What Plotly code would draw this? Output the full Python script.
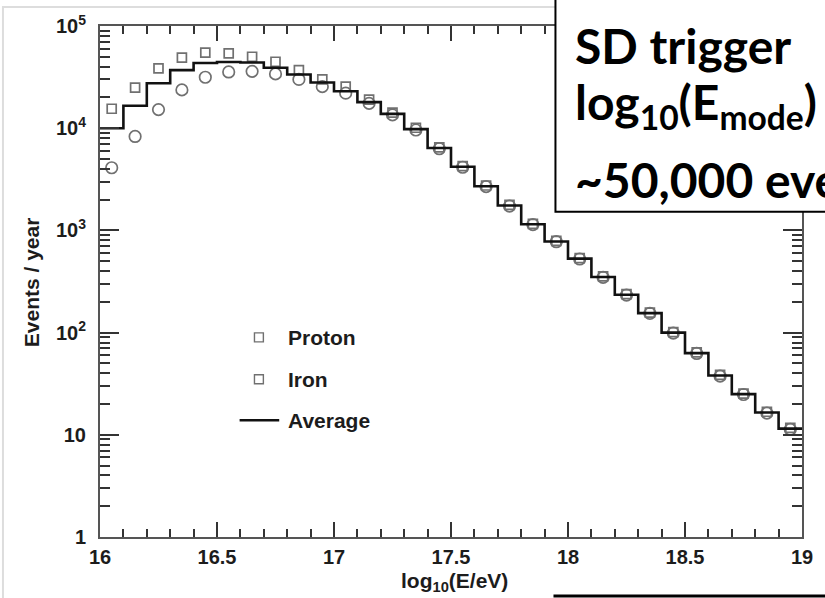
import plotly.graph_objects as go

# ---- data ----
bin_centers = [16.05, 16.15, 16.25, 16.35, 16.45, 16.55, 16.65, 16.75, 16.85, 16.95,
               17.05, 17.15, 17.25, 17.35, 17.45, 17.55, 17.65, 17.75, 17.85, 17.95,
               18.05, 18.15, 18.25, 18.35, 18.45, 18.55, 18.65, 18.75, 18.85, 18.95]
bin_width = 0.1

proton = [15500, 25000, 38500, 49000, 55000, 54000, 50000, 44700, 37000, 30000,
          25500, 19000, 14200, 10100, 6500, 4250, 2750, 1780, 1160, 790,
          535, 355, 238, 157, 101, 64, 38.5, 25.3, 16.8, 11.7]
iron = [4100, 8300, 15200, 23700, 31500, 35500, 36000, 34000, 30000, 25500,
        22000, 17500, 13500, 9600, 6300, 4150, 2680, 1730, 1140, 775,
        525, 347, 233, 154, 99, 62.5, 37.5, 24.8, 16.3, 11.3]
average = [10000, 16600, 27500, 37000, 43500, 44500, 44000, 39000, 33500, 28000,
           23000, 18000, 13800, 9800, 6400, 4200, 2700, 1750, 1150, 780,
           530, 350, 235, 155, 100, 63, 38, 25, 16.5, 11.5]

x_ticks = [16, 16.5, 17, 17.5, 18, 18.5, 19]
x_ticktext = ["16", "16.5", "17", "17.5", "18", "18.5", "19"]
y_ticks = [1, 10, 100, 1000, 10000, 100000]
y_ticktext = ["1", "10", "10<sup>2</sup>", "10<sup>3</sup>", "10<sup>4</sup>", "10<sup>5</sup>"]

legend_labels = ["Proton", "Iron", "Average"]
box_text = ["SD trigger", "log<sub>10</sub>(E<sub>mode</sub>)", "~50,000 events"]

# step line: left bin edges plus the final right edge
edges = [c - bin_width / 2 for c in bin_centers] + [bin_centers[-1] + bin_width / 2]
avg_step = average + [average[-1]]

# ---- layout geometry (pixels) ----
W, H = 825, 598
L, R, T, B = 100, 16, 25, 61
PW, PH = W - L - R, H - T - B


def px(x):
    return (x - L) / PW


def py(y):
    return (H - B - y) / PH


GRAY = "#707070"
INK = "#1c1c1c"
FONT = "Liberation Sans"

fig = go.Figure()
fig.add_trace(go.Scatter(x=bin_centers, y=proton, mode="markers", name="Proton",
                         marker=dict(symbol="square-open", size=9, color=GRAY,
                                     line=dict(width=1.7, color=GRAY))))
fig.add_trace(go.Scatter(x=bin_centers, y=iron, mode="markers", name="Iron",
                         marker=dict(symbol="circle-open", size=11.5, color=GRAY,
                                     line=dict(width=1.7, color=GRAY))))
fig.add_trace(go.Scatter(x=edges, y=avg_step, mode="lines", name="Average",
                         line=dict(shape="hv", color="#111111", width=2.6)))

minor_y = [m * 10 ** e for e in range(0, 5) for m in range(2, 10)]

axis_common = dict(showline=True, linecolor="#555555", linewidth=2, mirror="allticks",
                   ticks="inside", showgrid=False, zeroline=False, tickcolor="#333333",
                   title=None)

fig.update_xaxes(range=[16, 19], tickvals=x_ticks, ticktext=x_ticktext, ticklen=15, tickwidth=2,
                 tickfont=dict(family=FONT, size=20, color=INK, weight="bold"),
                 ticklabelstandoff=1,
                 minor=dict(ticks="inside", dtick=0.1, ticklen=8, tickwidth=1.5, tickcolor="#333333",
                            showgrid=False),
                 **axis_common)
fig.update_yaxes(type="log", range=[0, 5], tickvals=y_ticks, ticktext=y_ticktext, ticklen=19, tickwidth=2,
                 tickfont=dict(family=FONT, size=20, color=INK, weight="bold"),
                 ticklabelstandoff=8,
                 minor=dict(ticks="inside", tickvals=minor_y, ticklen=10, tickwidth=1.5,
                            tickcolor="#333333", showgrid=False),
                 **axis_common)

shapes = []
annotations = []

# axis titles
annotations.append(dict(xref="paper", yref="paper", x=px(458), y=py(582), text="log<sub>10</sub>(E/eV)",
                        showarrow=False, xanchor="center", yanchor="middle",
                        font=dict(family=FONT, size=21, color=INK, weight="bold")))
annotations.append(dict(xref="paper", yref="paper", x=px(31), y=py(282), text="Events / year",
                        showarrow=False, xanchor="center", yanchor="middle", textangle=-90,
                        font=dict(family=FONT, size=21, color=INK, weight="bold")))

# outer light frame of the picture
shapes.append(dict(type="rect", xref="paper", yref="paper",
                   x0=px(2), x1=px(840), y0=py(610), y1=py(6),
                   line=dict(color="#dddddd", width=2), fillcolor="rgba(0,0,0,0)", layer="below"))

# manual legend
leg_y = [337, 379, 420]
for label, yy in zip(legend_labels, leg_y):
    annotations.append(dict(xref="paper", yref="paper", x=px(288), y=py(yy), text=label,
                            showarrow=False, xanchor="left", yanchor="middle",
                            font=dict(family=FONT, size=21, color=INK, weight="bold")))
for yy in leg_y[:2]:
    shapes.append(dict(type="rect", xref="paper", yref="paper",
                       x0=px(256), x1=px(265), y0=py(yy + 4.5), y1=py(yy - 4.5),
                       line=dict(color=GRAY, width=1.4), fillcolor="white"))
shapes.append(dict(type="line", xref="paper", yref="paper",
                   x0=px(241), x1=px(281), y0=py(leg_y[2]), y1=py(leg_y[2]),
                   line=dict(color="#111111", width=2.6)))

# overlay text box
shapes.append(dict(type="rect", xref="paper", yref="paper",
                   x0=px(560), x1=px(880), y0=py(211), y1=py(-20),
                   line=dict(color="#000000", width=2), fillcolor="white"))
box_y = [45, 104, 179]
for txt, yy in zip(box_text, box_y):
    annotations.append(dict(xref="paper", yref="paper", x=px(578), y=py(yy), text=txt,
                            showarrow=False, xanchor="left", yanchor="middle",
                            font=dict(family="Lato", size=48, color="#000000", weight="bold")))

# bottom-right partial frame line
shapes.append(dict(type="line", xref="paper", yref="paper",
                   x0=px(558), x1=px(840), y0=py(596), y1=py(596),
                   line=dict(color="#000000", width=3)))

fig.update_layout(width=W, height=H, margin=dict(l=L, r=R, t=T, b=B),
                  paper_bgcolor="white", plot_bgcolor="white",
                  shapes=shapes, annotations=annotations, showlegend=False)

fig.write_html("out.html")
